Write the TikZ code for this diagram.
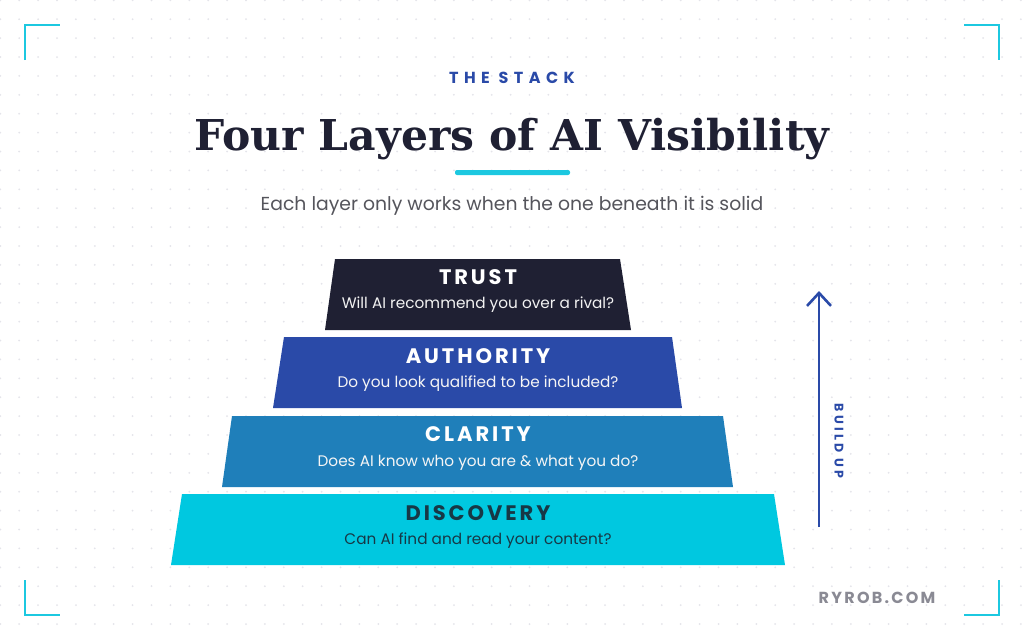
\documentclass[tikz,border=0pt]{standalone}
\usepackage{fontspec}
\setmainfont{Poppins}
\newfontfamily\titlefont{DejaVu Serif}
\newfontfamily\capsfont[LetterSpace=14]{Poppins}
\newfontfamily\widecaps[LetterSpace=26]{Poppins}
\newfontfamily\kickercaps[LetterSpace=34]{Poppins}
\usetikzlibrary{arrows.meta}
\definecolor{inkdark}{HTML}{1F2033}
\definecolor{royal}{HTML}{2A4AA8}
\definecolor{midblue}{HTML}{1F7FBA}
\definecolor{cyanlayer}{HTML}{00C8E0}
\definecolor{tealtext}{HTML}{173846}
\definecolor{bracket}{HTML}{1CC8E0}
\definecolor{dotgrey}{HTML}{E4E4EA}
\definecolor{subgrey}{HTML}{55555C}
\definecolor{markgrey}{HTML}{8A8A94}
\tikzset{
  corner/.style={draw=bracket, line width=2.6pt},
  head/.style={font=\capsfont\bfseries\fontsize{21}{24}\selectfont},
  ask/.style={font=\fontsize{15.3}{18}\selectfont},
}

\begin{document}
\begin{tikzpicture}[x=1pt,y=-1pt]
\useasboundingbox (0,0) rectangle (1024,640);
\fill[white] (0,0) rectangle (1024,640);
% dot grid
\foreach \i in {0,...,54}
  \foreach \j in {0,...,34}
    \fill[dotgrey] (0.3+18.9*\i,0.3+18.9*\j) circle (1pt);
% corner brackets
\draw[corner] (25,60) -- (25,25) -- (60,25);
\draw[corner] (964,25) -- (999,25) -- (999,60);
\draw[corner] (25,580) -- (25,615) -- (60,615);
\draw[corner] (964,615) -- (999,615) -- (999,580);
% heading
\node[font=\kickercaps\bfseries\fontsize{16}{18}\selectfont, text=royal] (kicker) at (512,78) {THE STACK};
\node[font=\titlefont\bfseries\fontsize{42.5}{48}\selectfont, text=inkdark] (title) at (512,139) {Four Layers of AI Visibility};
\fill[bracket, rounded corners=2pt] (455,170) rectangle (570,175);
\node[font=\fontsize{18.8}{22}\selectfont, text=subgrey] (sub) at (512,206) {Each layer only works when the one beneath it is solid};
% the four layers, bottom up
\fill[cyanlayer] (171,565) -- (182,494) -- (774,494) -- (785,565) -- cycle;
\fill[midblue] (222,487) -- (232,416) -- (723,416) -- (733,487) -- cycle;
\fill[royal] (273,408) -- (284,337) -- (672,337) -- (682,408) -- cycle;
\fill[inkdark] (325,330) -- (335,259) -- (620,259) -- (631,330) -- cycle;
\node[head, text=white] (trust) at (478,277) {TRUST};
\node[ask, text=white!90!gray] (trustq) at (478,305) {Will AI recommend you over a rival?};
\node[head, text=white] (authority) at (478,356) {AUTHORITY};
\node[ask, text=white!92!gray] (authorityq) at (478,384) {Do you look qualified to be included?};
\node[head, text=white] (clarity) at (478,434) {CLARITY};
\node[ask, text=white!92!gray] (clarityq) at (478,463) {Does AI know who you are \& what you do?};
\node[head, text=tealtext] (discovery) at (478,513) {DISCOVERY};
\node[ask, text=tealtext] (discoveryq) at (478,541) {Can AI find and read your content?};
% build-up arrow
\coordinate (low) at (819,527);
\coordinate (high) at (819,291);
\draw[royal, line width=2.6pt, -{Straight Barb[length=13pt,width=24pt,line width=2.6pt]}] (low) -- (high);
\node[font=\widecaps\bfseries\fontsize{12.5}{14}\selectfont, text=royal, rotate=-90] (build) at (839,441) {BUILD UP};
% footer mark
\node[font=\capsfont\bfseries\fontsize{16}{18}\selectfont, text=markgrey] (site) at (877,598) {RYROB.COM};
\end{tikzpicture}
\end{document}
